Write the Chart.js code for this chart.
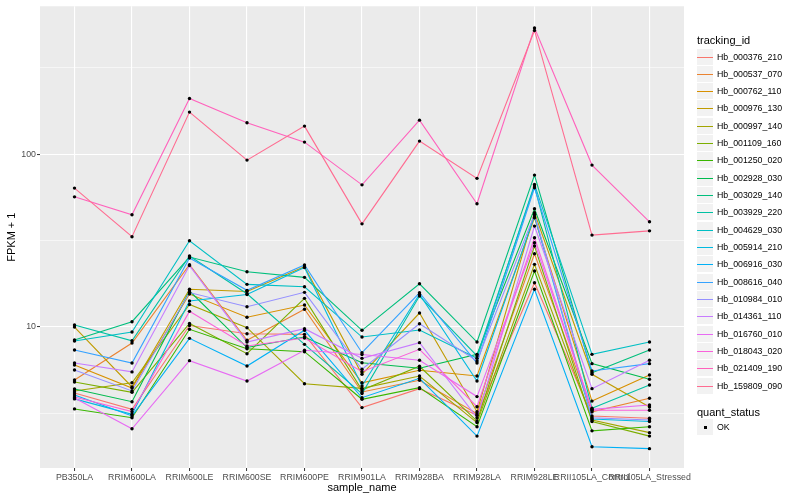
<!DOCTYPE html>
<html>
<head>
<meta charset="utf-8">
<title>FPKM by sample</title>
<script src="https://cdn.jsdelivr.net/npm/chart.js@4.4.0/dist/chart.umd.min.js"></script>
<style>
  body { margin: 0; background: #ffffff; }
  #wrap { position: relative; width: 800px; height: 500px; font-family: 'Liberation Sans', Arial, sans-serif; }
  #chart { position: absolute; left: 0; top: 0; }
  .lg-title { position: absolute; left: 697px; font-size: 11px; line-height: 13px; white-space: nowrap; color: #000; }
  .lg-row { position: absolute; left: 697px; height: 16px; width: 100px; }
  .lg-key { position: absolute; left: 0; top: 0; width: 16px; height: 16px; background: #f2f2f2; }
  .lg-line { position: absolute; left: 0; width: 16px; top: 8px; height: 1px; }
  .lg-dot { position: absolute; left: 7px; top: 7px; width: 3px; height: 3px; background: #000; }
  .lg-text { position: absolute; left: 20px; top: 0; font-size: 8.8px; line-height: 17px; white-space: nowrap; color: #000; }
</style>
</head>
<body>
<div id="wrap">
  <canvas id="chart" width="800" height="500"></canvas>
  <div id="legend"></div>
</div>
<script>
// categorias do eixo X
const samples = ['PB350LA', 'RRIM600LA', 'RRIM600LE', 'RRIM600SE', 'RRIM600PE', 'RRIM901LA',
  'RRIM928BA', 'RRIM928LA', 'RRIM928LE', 'RRII105LA_Control', 'RRII105LA_Stressed'];

// FPKM + 1 por gene, na ordem das amostras
const hb_000376_210 = [4.15, 3.34, 10.20, 9.15, 9.07, 3.42, 4.40, 3.09, 18.03, 3.06, 2.97];
const hb_000537_070 = [4.94, 8.08, 22.92, 8.38, 12.66, 4.21, 4.92, 3.15, 26.53, 3.23, 3.87];
const hb_000762_110 = [6.03, 4.44, 15.51, 11.39, 13.40, 4.76, 5.62, 5.21, 42.82, 3.73, 5.28];
const hb_000976_130 = [10.00, 4.50, 16.52, 16.04, 22.32, 5.33, 12.05, 3.24, 45.78, 5.33, 3.45];
const hb_000997_140 = [4.27, 4.76, 13.49, 9.91, 4.70, 4.42, 5.21, 2.80, 23.04, 2.90, 2.45];
const hb_001109_160 = [4.81, 4.19, 10.48, 7.01, 14.65, 4.32, 5.93, 2.86, 29.39, 2.84, 2.34];
const hb_001250_020 = [3.36, 2.99, 9.70, 7.49, 7.20, 3.82, 4.46, 2.65, 21.07, 2.51, 2.65];
const hb_002928_030 = [4.38, 3.70, 16.15, 7.61, 8.75, 6.22, 5.77, 6.95, 48.28, 6.14, 4.99];
const hb_003029_140 = [8.41, 10.73, 25.39, 20.88, 19.38, 9.57, 17.79, 8.19, 75.61, 5.44, 7.36];
const hb_003929_220 = [10.27, 8.33, 25.73, 15.57, 7.94, 4.12, 15.10, 6.80, 65.32, 3.39, 4.62];
const hb_004629_030 = [8.30, 9.36, 31.54, 17.65, 17.10, 8.75, 9.61, 6.59, 66.81, 6.95, 8.19];
const hb_005914_210 = [3.84, 3.13, 14.13, 15.41, 22.08, 4.56, 15.46, 4.87, 43.81, 2.94, 2.84];
const hb_006916_030 = [4.05, 3.06, 8.60, 5.95, 9.57, 3.90, 5.05, 2.34, 16.52, 2.03, 1.98];
const hb_008616_040 = [7.36, 6.19, 25.05, 16.30, 22.83, 7.10, 15.78, 6.19, 63.86, 5.57, 6.14];
const hb_010984_010 = [5.64, 4.27, 15.82, 13.10, 15.87, 5.70, 10.45, 6.36, 44.82, 2.99, 2.90];
const hb_014361_110 = [6.19, 5.50, 22.67, 8.19, 9.78, 6.59, 8.12, 2.99, 38.35, 4.40, 6.42];
const hb_016760_010 = [3.89, 2.58, 6.39, 4.87, 7.34, 6.94, 6.42, 3.96, 30.71, 3.34, 3.54];
const hb_018043_020 = [3.94, 3.24, 12.32, 7.77, 8.64, 5.52, 7.43, 3.46, 32.83, 3.30, 3.30];
const hb_021409_190 = [56.6, 44.6, 209.9, 151.7, 117.3, 66.4, 157.2, 51.6, 537, 86.4, 40.6];
const hb_159809_090 = [63.6, 33.3, 175, 92.3, 145.2, 39.5, 118.9, 72.4, 519, 34.0, 36.0];

const trackingIds = ['Hb_000376_210', 'Hb_000537_070', 'Hb_000762_110', 'Hb_000976_130', 'Hb_000997_140',
  'Hb_001109_160', 'Hb_001250_020', 'Hb_002928_030', 'Hb_003029_140', 'Hb_003929_220', 'Hb_004629_030',
  'Hb_005914_210', 'Hb_006916_030', 'Hb_008616_040', 'Hb_010984_010', 'Hb_014361_110', 'Hb_016760_010',
  'Hb_018043_020', 'Hb_021409_190', 'Hb_159809_090'];

const seriesValues = [hb_000376_210, hb_000537_070, hb_000762_110, hb_000976_130, hb_000997_140,
  hb_001109_160, hb_001250_020, hb_002928_030, hb_003029_140, hb_003929_220, hb_004629_030,
  hb_005914_210, hb_006916_030, hb_008616_040, hb_010984_010, hb_014361_110, hb_016760_010,
  hb_018043_020, hb_021409_190, hb_159809_090];

// paleta hue do ggplot para 20 grupos
const palette = ['#F8766D', '#EA8331', '#D89000', '#C09B00', '#A3A500', '#7CAE00', '#39B600', '#00BB4E',
  '#00BF7D', '#00C1A3', '#00BFC4', '#00BAE0', '#00B0F6', '#35A2FF', '#9590FF', '#C77CFF', '#E76BF3',
  '#FA62DB', '#FF62BC', '#FF6C91'];

// linhas de grade do eixo Y (principais com rótulo, secundárias sem)
const yMajorTicks = [10, 100];
const yMinorTicks = [3.162, 31.62, 316.2];
const yMin = 1.53;
const yMax = 716;

// fundo cinza do painel
const panelBackground = {
  id: 'panelBackground',
  beforeDraw(chart) {
    const { ctx, chartArea: a } = chart;
    ctx.save();
    ctx.fillStyle = '#ebebeb';
    ctx.fillRect(a.left, a.top, a.right - a.left, a.bottom - a.top);
    ctx.restore();
  }
};

const datasets = seriesValues.map((vals, i) => ({
  label: trackingIds[i],
  data: vals.map((v, j) => ({ x: j + 1, y: v })),
  borderColor: palette[i],
  borderWidth: 1.1,
  pointRadius: 0,
  tension: 0,
  fill: false,
  order: seriesValues.length - i
}));

// pontos por cima de todas as linhas
datasets.push({
  label: 'OK',
  data: seriesValues.flatMap(vals => vals.map((v, j) => ({ x: j + 1, y: v }))),
  showLine: false,
  pointRadius: 1.7,
  pointBackgroundColor: '#000000',
  pointBorderWidth: 0,
  order: -100
});

const isMajor = v => yMajorTicks.some(t => Math.abs(t - v) < 1e-6);

new Chart(document.getElementById('chart'), {
  type: 'line',
  data: { datasets },
  options: {
    responsive: false,
    devicePixelRatio: 1,
    animation: false,
    layout: { padding: { left: 0, right: 116, top: 5, bottom: 0 } },
    plugins: { legend: { display: false }, tooltip: { enabled: false } },
    scales: {
      x: {
        type: 'linear',
        min: 0.4,
        max: 11.6,
        afterBuildTicks(scale) {
          scale.ticks = samples.map((s, i) => ({ value: i + 1 }));
        },
        afterFit(scale) { scale.height = 32; },
        border: { display: false },
        grid: { color: '#ffffff', lineWidth: 1.1, tickLength: 3, tickColor: '#333333', tickWidth: 1 },
        ticks: {
          autoSkip: false,
          maxRotation: 0,
          minRotation: 0,
          padding: 1.5,
          color: '#4d4d4d',
          font: { family: 'Liberation Sans', size: 8.8 },
          callback: v => samples[Math.round(v) - 1] || ''
        },
        title: {
          display: true,
          text: 'sample_name',
          color: '#000000',
          font: { family: 'Liberation Sans', size: 11 },
          padding: { top: 0, bottom: 5.1 }
        }
      },
      y: {
        type: 'logarithmic',
        min: yMin,
        max: yMax,
        afterBuildTicks(scale) {
          scale.ticks = yMinorTicks.concat(yMajorTicks).sort((a, b) => a - b).map(v => ({ value: v }));
        },
        afterFit(scale) { scale.width = 40; },
        border: { display: false },
        grid: {
          color: '#ffffff',
          lineWidth: ctx => (ctx.tick && isMajor(ctx.tick.value) ? 1.1 : 0.55),
          tickLength: 3,
          tickWidth: 1,
          tickColor: ctx => (ctx.tick && isMajor(ctx.tick.value) ? '#333333' : 'rgba(0,0,0,0)')
        },
        ticks: {
          autoSkip: false,
          padding: 1,
          color: '#4d4d4d',
          font: { family: 'Liberation Sans', size: 8.8 },
          callback: v => (isMajor(v) ? String(Math.round(v)) : '')
        },
        title: {
          display: true,
          text: 'FPKM + 1',
          color: '#000000',
          font: { family: 'Liberation Sans', size: 11 },
          padding: { top: 5.4, bottom: 0 }
        }
      }
    }
  },
  plugins: [panelBackground]
});

// legenda no estilo ggplot
function montarLegenda() {
  const box = document.getElementById('legend');
  const rowStep = 17.32;
  let html = '<div class="lg-title" style="top:34px">tracking_id</div>';
  trackingIds.forEach((id, i) => {
    const top = Math.round(48.5 + i * rowStep);
    html += '<div class="lg-row" style="top:' + top + 'px">' +
      '<div class="lg-key"><div class="lg-line" style="background:' + palette[i] + '"></div></div>' +
      '<div class="lg-text">' + id + '</div></div>';
  });
  html += '<div class="lg-title" style="top:406px">quant_status</div>';
  html += '<div class="lg-row" style="top:419px"><div class="lg-key"><div class="lg-dot"></div></div>' +
    '<div class="lg-text">OK</div></div>';
  box.innerHTML = html;
}

montarLegenda();
</script>
</body>
</html>
